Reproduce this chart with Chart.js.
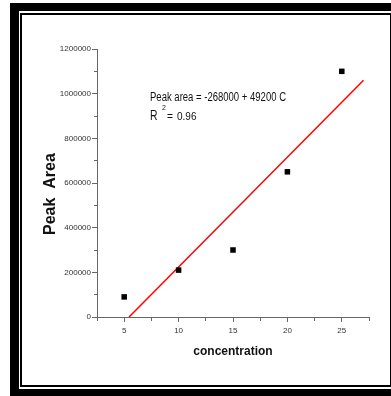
<!DOCTYPE html>
<html>
<head>
<meta charset="utf-8">
<title>Peak Area x concentration</title>
<script src="https://cdn.jsdelivr.net/npm/chart.js@4.4.1/dist/chart.umd.min.js"></script>
<style>
    html, body { margin: 0; padding: 0; background: #fff; }
    #moldura-externa { position: absolute; left: 10px; top: 3px; width: 400px; height: 393px; background: #000; }
    #moldura-branca { position: absolute; left: 19px; top: 11px; width: 380px; height: 378px; background: #fff; }
    #moldura-interna { position: absolute; left: 20px; top: 13px; width: 371px; height: 374px; box-sizing: border-box;
        border-left: 2px solid #000; border-top: 2px solid #000; border-bottom: 2px solid #000; border-right: 1px solid #000; }
    #grafico-calibracao { position: absolute; left: 0; top: 0; }
</style>
</head>
<body>
<div id="moldura-externa"></div>
<div id="moldura-branca"></div>
<div id="moldura-interna"></div>
<canvas id="grafico-calibracao" width="391" height="396"></canvas>

<script>
// Dados da curva de calibração
const concentracoes = [5, 10, 15, 20, 25];
const areasPico = [90000, 210000, 300000, 650000, 1100000];

// Regressão linear: Peak area = a + b * C
const intercepto = -268000;
const inclinacao = 49200;
const r2 = 0.96;
const cFinalReta = 27;

// Limites dos eixos
const xMin = 2.5, xMax = 27.5, xPasso = 2.5;
const yMin = 0, yMax = 1200000, yPasso = 100000;

// Reta começa onde a área é zero
const cInicialReta = -intercepto / inclinacao;
const pontosReta = [cInicialReta, cFinalReta].map(c => ({ x: c, y: intercepto + inclinacao * c }));

Chart.defaults.font.family = '"Liberation Sans", Arial, sans-serif';

// Escreve texto comprimido na horizontal (largura alvo opcional)
function escrever(ctx, texto, x, y, fonte, largura) {
    ctx.save();
    ctx.font = fonte;
    const w = ctx.measureText(texto).width;
    const esc = largura ? largura / w : 1;
    ctx.translate(x, y);
    ctx.scale(esc, 1);
    ctx.fillText(texto, 0, 0);
    ctx.restore();
}

const equacao = {
    id: 'equacao',
    afterDatasetsDraw(chart) {
        const ctx = chart.ctx;
        const a = chart.chartArea;
        ctx.save();
        ctx.fillStyle = '#111';
        ctx.textBaseline = 'alphabetic';
        const x0 = a.left + 53;
        escrever(ctx, `Peak area = ${intercepto} + ${inclinacao} C`, x0, a.top + 52, '12px "Liberation Sans"', 136);
        escrever(ctx, 'R', x0, a.top + 71, '15px "Liberation Sans"', 7.5);
        escrever(ctx, '2', x0 + 12, a.top + 61, '7px "Liberation Sans"');
        escrever(ctx, '=', x0 + 17, a.top + 71, '11px "Liberation Sans"', 6);
        escrever(ctx, r2.toFixed(2), x0 + 27, a.top + 71, '11px "Liberation Sans"', 19.5);
        ctx.restore();
    }
};

const corEixo = '#666';

new Chart(document.getElementById('grafico-calibracao'), {
    type: 'scatter',
    data: {
        datasets: [{
            // reta de regressão
            data: pontosReta,
            showLine: true,
            borderColor: '#ff0000',
            backgroundColor: '#ff0000',
            borderWidth: 1.5,
            pointRadius: 0,
            fill: false,
            order: 2
        }, {
            // pontos medidos
            data: concentracoes.map((c, i) => ({ x: c, y: areasPico[i] })),
            pointStyle: 'rect',
            pointRadius: 3.9,
            backgroundColor: '#000',
            borderColor: '#000',
            borderWidth: 0,
            order: 1
        }]
    },
    options: {
        responsive: false,
        animation: false,
        layout: { padding: { left: 41, top: 49, right: 22, bottom: 36.8 } },
        plugins: {
            legend: { display: false },
            tooltip: { enabled: false }
        },
        scales: {
            x: {
                type: 'linear',
                min: xMin,
                max: xMax,
                afterFit: s => { s.height = 42.2; },
                border: { color: corEixo, width: 1 },
                grid: {
                    drawOnChartArea: false,
                    tickLength: 5,
                    tickColor: corEixo,
                    tickBorderDash: c => (c.tick && c.tick.value % 5 !== 0) ? [3, 10] : []
                },
                ticks: {
                    stepSize: xPasso,
                    padding: 4,
                    color: '#333',
                    font: { size: 8 },
                    maxRotation: 0,
                    autoSkip: false,
                    callback: v => (v % 5 === 0 ? String(v) : '')
                },
                title: {
                    display: true,
                    text: 'concentration',
                    color: '#111',
                    padding: 0,
                    font: { size: 12, weight: 'bold' }
                }
            },
            y: {
                type: 'linear',
                min: yMin,
                max: yMax,
                afterFit: s => { s.width = 56; },
                border: { color: corEixo, width: 1 },
                grid: {
                    drawOnChartArea: false,
                    tickLength: 5,
                    tickColor: corEixo,
                    tickBorderDash: c => (c.tick && c.tick.value % 200000 !== 0) ? [0, 2, 3, 10] : []
                },
                ticks: {
                    stepSize: yPasso,
                    padding: 1,
                    color: '#333',
                    font: { size: 8 },
                    autoSkip: false,
                    callback: v => (v % 200000 === 0 ? String(v) : '')
                },
                title: {
                    display: true,
                    // espaços no fim deslocam o título um pouco para baixo
                    text: 'Peak  Area     ',
                    color: '#111',
                    padding: 0,
                    font: { size: 16, weight: 'bold' }
                }
            }
        }
    },
    plugins: [equacao]
});
</script>
</body>
</html>
